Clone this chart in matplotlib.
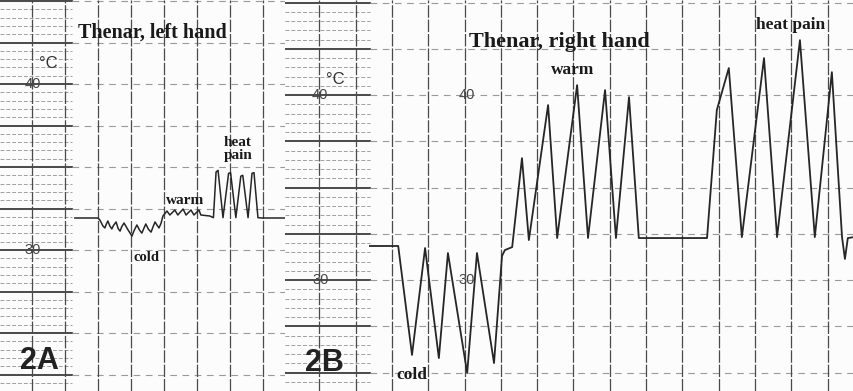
import matplotlib
matplotlib.use("Agg")
import matplotlib.pyplot as plt
import numpy as np

# ---------------- data (time in chart divisions, temperature in deg C) ----------------
# Panel 2A: thenar, left hand
a_time = [-0.70, 0.00, 0.06, 0.15, 0.21, 0.25, 0.30, 0.36, 0.42, 0.47, 0.55, 0.61,
          0.67, 0.72, 0.79, 0.90, 1.03, 1.09, 1.18, 1.26, 1.33, 1.39, 1.45, 1.53,
          1.61, 1.67, 1.73, 1.79, 1.85, 1.91, 1.97, 2.09, 2.18, 2.33, 2.42, 2.58,
          2.67, 2.82, 2.91, 3.06, 3.12, 3.39, 3.50, 3.58, 3.64, 3.79, 3.96, 4.02,
          4.18, 4.33, 4.39, 4.55, 4.67, 4.73, 4.85, 4.97, 5.67]
a_temp = [31.93, 31.93, 31.80, 31.45, 31.33, 31.55, 31.75, 31.45, 31.27, 31.48, 31.69,
          31.30, 31.14, 31.40, 31.63, 31.25, 30.84, 31.15, 31.51, 31.20, 31.02, 31.30,
          31.57, 31.25, 31.08, 31.40, 31.69, 31.50, 31.33, 31.60, 32.05, 32.35, 32.11,
          32.41, 32.11, 32.47, 32.11, 32.41, 32.11, 32.41, 32.11, 32.05, 31.95, 34.70,
          34.80, 31.95, 34.62, 34.66, 31.95, 34.45, 34.50, 31.95, 34.62, 34.66, 31.95,
          31.93, 31.93]

# Panel 2B: thenar, right hand
b_time = [-0.61, 0.17, 0.55, 0.91, 1.29, 1.54, 2.07, 2.34, 2.81, 3.03, 3.11, 3.31,
          3.58, 3.77, 4.30, 4.55, 5.10, 5.40, 5.87, 6.17, 6.53, 6.80, 8.68, 8.95,
          9.28, 9.64, 10.25, 10.61, 11.24, 11.65, 12.12, 12.40, 12.48, 12.56, 12.73]
b_temp = [31.84, 31.84, 25.95, 31.73, 25.78, 31.46, 24.97, 31.46, 25.51, 31.30, 31.62,
          31.78, 36.59, 32.16, 39.46, 32.27, 40.54, 32.27, 40.27, 32.27, 39.89, 32.27,
          32.27, 39.19, 41.46, 32.32, 42.00, 32.32, 42.97, 32.32, 41.24, 32.32, 31.14,
          32.27, 32.32]

scale_ticks = [30, 40]

W, H = 854, 391
fig = plt.figure(figsize=(W / 100, H / 100), dpi=100)
fig.patch.set_facecolor("#fcfcfc")

TRACE = "#262626"
GRID_V = "#4a4a4a"
GRID_H = "#9a9a9a"
SERIF = ["Liberation Serif", "DejaVu Serif"]
SANS = ["Liberation Sans", "DejaVu Sans"]


def panel(rect, xlim, ylim, strip_end, vlines, t, y, lw):
    ax = fig.add_axes(rect)
    ax.set_xlim(*xlim)
    ax.set_ylim(*ylim)
    ax.set_axis_off()
    ax.patch.set_alpha(0)
    # ruler strip: dense horizontal lines
    for v in np.arange(np.ceil(ylim[0] * 2) / 2, ylim[1], 0.5):
        major = abs(v / 2.5 - round(v / 2.5)) < 1e-6
        ax.plot([xlim[0], strip_end], [v, v],
                color="#3c3c3c" if major else "#a0a0a0",
                lw=1.3 if major else 0.7,
                ls="-" if major else (0, (4, 2)), zorder=1)
    # main area horizontal dashed lines every 2.5 degC
    for v in np.arange(np.ceil(ylim[0] / 2.5) * 2.5, ylim[1], 2.5):
        ax.plot([strip_end, xlim[1]], [v, v], color=GRID_H, lw=0.8,
                ls=(0, (6, 5)), zorder=1)
    # vertical time lines
    for v in vlines:
        ax.plot([v, v], [ylim[0], ylim[1]], color=GRID_V, lw=0.9,
                ls=(0, (10, 1.5)), zorder=1)
    ax.plot(t, y, color=TRACE, lw=lw, zorder=3, solid_joinstyle="round")
    return ax


def unit(ax, x, y):
    ax.text(x, y, "°C", family=SANS, fontsize=12, ha="center", va="center",
            color="#333", zorder=4)


# Panel A
axA = panel([0, 0, 285 / W, 1], (-2.97, 5.67), (21.51, 45.06), -0.79,
            range(-2, 6), a_time, a_temp, 1.1)
axA.text(1.64, 43.07, "Thenar, left hand", family=SERIF, weight="bold",
         fontsize=14.5, ha="center", va="center", color="#1a1a1a")
unit(axA, -1.50, 41.25)
for v in scale_ticks:
    axA.text(-1.97, v, str(v), family=SANS, fontsize=10.5, ha="center",
             va="center", color="#444", zorder=4)
axA.text(1.48, 29.58, "cold", family=SERIF, weight="bold", fontsize=10.5,
         ha="center", va="center", color="#1a1a1a")
axA.text(2.64, 33.01, "warm", family=SERIF, weight="bold", fontsize=11,
         ha="center", va="center", color="#1a1a1a")
axA.text(4.24, 36.08, "heat\npain", family=SERIF, weight="bold", fontsize=11,
         ha="center", va="center", color="#1a1a1a", linespacing=0.95)
axA.text(-1.76, 23.31, "2A", family=SANS, weight="bold", fontsize=22,
         ha="center", va="center", color="#222")

# Panel B
axB = panel([285 / W, 0, 569 / W, 1], (-2.95, 12.73), (24.0, 45.14), -0.62,
            range(-2, 13), b_time, b_temp, 1.3)
axB.text(4.60, 42.86, "Thenar, right hand", family=SERIF, weight="bold",
         fontsize=16, ha="center", va="center", color="#1a1a1a")
axB.text(4.99, 41.35, "warm", family=SERIF, weight="bold", fontsize=12.5,
         ha="center", va="center", color="#1a1a1a")
axB.text(10.99, 43.78, "heat pain", family=SERIF, weight="bold", fontsize=12.5,
         ha="center", va="center", color="#1a1a1a")
axB.text(0.55, 24.86, "cold", family=SERIF, weight="bold", fontsize=12.5,
         ha="center", va="center", color="#1a1a1a")
axB.text(-1.87, 25.51, "2B", family=SANS, weight="bold", fontsize=22,
         ha="center", va="center", color="#222")
unit(axB, -1.55, 40.85)
for v in scale_ticks:
    axB.text(-1.98, v, str(v), family=SANS, fontsize=10.5, ha="center",
             va="center", color="#444", zorder=4)
    axB.text(2.06, v, str(v), family=SANS, fontsize=10.5, ha="center",
             va="center", color="#444", zorder=4)

fig.savefig("out.png", dpi=100, facecolor=fig.get_facecolor())
